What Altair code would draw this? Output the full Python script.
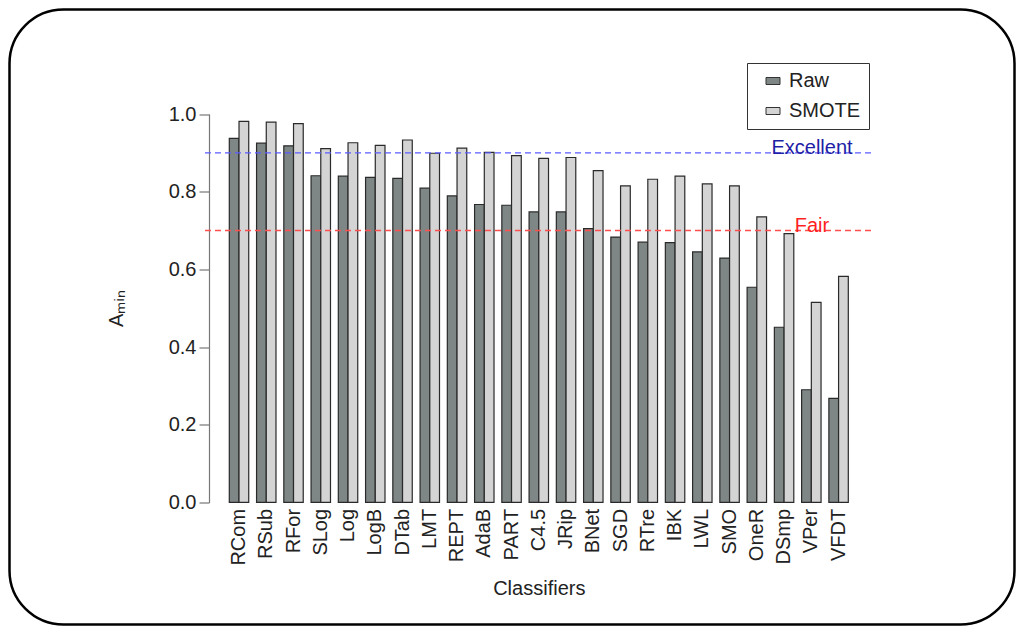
import altair as alt
import pandas as pd

# ---- data ----
classifiers = ["RCom", "RSub", "RFor", "SLog", "Log", "LogB", "DTab", "LMT", "REPT",
               "AdaB", "PART", "C4.5", "JRip", "BNet", "SGD", "RTre", "IBK", "LWL",
               "SMO", "OneR", "DSmp", "VPer", "VFDT"]
raw = [0.937, 0.925, 0.918, 0.841, 0.840, 0.837, 0.834, 0.809, 0.789,
       0.767, 0.765, 0.748, 0.748, 0.705, 0.683, 0.670, 0.669, 0.645,
       0.629, 0.554, 0.451, 0.290, 0.268]
smote = [0.981, 0.979, 0.975, 0.911, 0.926, 0.919, 0.933, 0.899, 0.912,
         0.901, 0.893, 0.886, 0.888, 0.854, 0.815, 0.832, 0.840, 0.820,
         0.815, 0.735, 0.692, 0.515, 0.582]
series = ["Raw", "SMOTE"]
series_colors = ["#7e8786", "#d4d4d4"]
ref_values = [0.9, 0.7]
ref_labels = ["Excellent", "Fair"]
ref_line_colors = ["#5c5cff", "#ff5050"]
ref_text_colors = ["#1e1ea6", "#ff1f1f"]
y_ticks = [0.0, 0.2, 0.4, 0.6, 0.8, 1.0]

rows = []
for c, r, s in zip(classifiers, raw, smote):
    rows.append({"Classifier": c, "Method": "Raw", "Value": r})
    rows.append({"Classifier": c, "Method": "SMOTE", "Value": s})
df = pd.DataFrame(rows)
ref_df = pd.DataFrame({"v": ref_values, "label": ref_labels,
                       "lc": ref_line_colors, "tc": ref_text_colors})

# ---- layout (the view is the rounded frame; plot placed inside) ----
FONT = "Liberation Sans"
PAD = 1.5
OX, OY = 8 + PAD, 8 + PAD
W, H = 1005, 615
Y0, Y1 = 502.4 - OY, 114 - OY          # pixel rows of 0.0 and 1.0
XA, XB = 229.3 - OX, 848.3 - OX        # first / last bar edges
AXIS_X = 209 - OX

x_scale = alt.Scale(range=[XA, XB], paddingInner=0.287, paddingOuter=0)
y_scale = alt.Scale(domain=[0, 1], range=[Y0, Y1], nice=False, zero=True)

bars = alt.Chart(df).mark_bar(stroke="#2a2a2a", strokeWidth=1.2).encode(
    x=alt.X("Classifier:N", sort=classifiers, scale=x_scale,
            axis=alt.Axis(title="Classifiers", labelAngle=270, labelAlign="right",
                          labelBaseline="middle", labelPadding=6, domain=False,
                          ticks=False, offset=-(H - Y0), titlePadding=13)),
    xOffset=alt.XOffset("Method:N", sort=series,
                        scale=alt.Scale(paddingInner=0, paddingOuter=0)),
    y=alt.Y("Value:Q", scale=y_scale,
            axis=alt.Axis(title="Aₘᵢₙ", values=y_ticks, format=".1f",
                          offset=-AXIS_X, tickSize=10, labelPadding=3,
                          titlePadding=42)),
    fill=alt.Fill("Method:N", sort=series,
                  scale=alt.Scale(domain=series, range=series_colors),
                  legend=alt.Legend(title=None, orient="none",
                                    legendX=747 - OX, legendY=63 - OY,
                                    padding=8, symbolOffset=8,
                                    strokeColor="#333", fillColor="white",
                                    symbolType="M-1,-0.5H1V0.5H-1Z",
                                    symbolSize=196, symbolStrokeColor="#333",
                                    symbolStrokeWidth=1, labelOffset=6,
                                    rowPadding=10, labelFontSize=20,
                                    labelFont=FONT, labelColor="#222")),
)

rules = alt.Chart(ref_df).mark_rule(strokeDash=[6, 4], strokeWidth=1.3).encode(
    y=alt.Y("v:Q", scale=y_scale),
    x=alt.value(205 - OX), x2=alt.value(875 - OX),
    color=alt.Color("lc:N", scale=None),
)

labels = alt.Chart(ref_df).mark_text(font=FONT, fontSize=20, baseline="alphabetic",
                                     align="center", dy=1).encode(
    y=alt.Y("v:Q", scale=y_scale),
    x=alt.value(812 - OX),
    text="label:N",
    color=alt.Color("tc:N", scale=None),
)

chart = alt.layer(bars, rules, labels).properties(
    width=W, height=H,
    autosize=alt.AutoSizeParams(type="none"),
    padding=PAD,
    background="white",
).configure_view(
    stroke="#000", strokeWidth=2.5, cornerRadius=54, fill="white"
).configure_axis(
    grid=False, labelFont=FONT, titleFont=FONT, labelFontSize=20,
    titleFontSize=20, titleFontWeight="normal", labelColor="#222",
    titleColor="#222", domainColor="#777", tickColor="#777",
    domainWidth=1.2, tickWidth=1.2,
)

chart.save("out.html", embed_options={"renderer": "svg", "actions": False})
